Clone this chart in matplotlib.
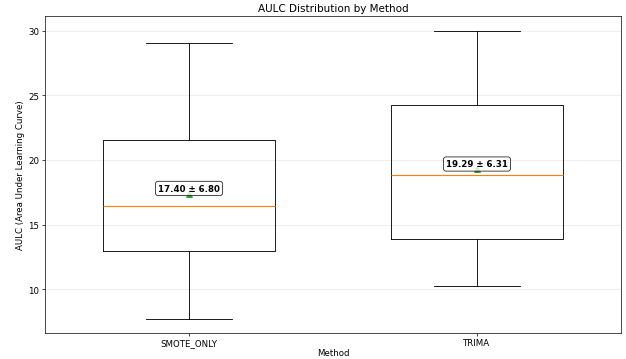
import matplotlib
matplotlib.use("Agg")
from matplotlib import pyplot as plt

methods = ['SMOTE_ONLY', 'TRIMA']
whis_lo = [7.67, 10.23]
q1 = [12.95, 13.88]
medians = [16.45, 18.84]
q3 = [21.57, 24.27]
whis_hi = [29.05, 30.0]
means = [17.40, 19.29]
stds = [6.80, 6.31]

stats = []
for i, m in enumerate(methods):
    stats.append({'label': m, 'whislo': whis_lo[i], 'q1': q1[i], 'med': medians[i],
                  'q3': q3[i], 'whishi': whis_hi[i], 'mean': means[i], 'fliers': []})

fig, ax = plt.subplots(figsize=(10, 5.75), dpi=62.6)
ax.bxp(stats, showmeans=True, widths=0.6,
       medianprops=dict(color='#ff7f0e', linewidth=1.3))

for i in range(len(methods)):
    ax.text(i + 1, means[i] + 0.05, f'{means[i]:.2f} ± {stds[i]:.2f}',
            ha='center', va='bottom', fontweight='bold',
            bbox=dict(boxstyle='round,pad=0.3', facecolor='white', alpha=0.8))

ax.set_ylim(6.6, 31.15)
ax.set_title('AULC Distribution by Method')
ax.set_xlabel('Method', labelpad=1)
ax.set_ylabel('AULC (Area Under Learning Curve)')
ax.tick_params(axis='x', pad=2.5)
ax.grid(True, axis='y', alpha=0.3)
plt.subplots_adjust(left=0.072, right=0.992, top=0.953, bottom=0.072)
plt.savefig('out.png')
